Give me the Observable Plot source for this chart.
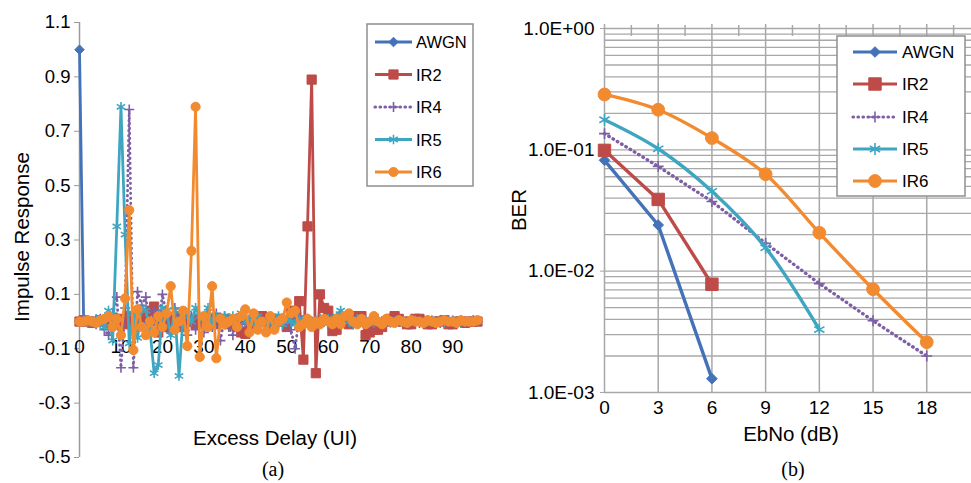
<!DOCTYPE html>
<html><head><meta charset="utf-8">
<script src="https://cdn.jsdelivr.net/npm/d3@7"></script>
<script src="https://cdn.jsdelivr.net/npm/@observablehq/plot@0.6"></script>
<style>
body{margin:0;background:#fff;}
#root{position:relative;width:971px;height:483px;overflow:hidden;font-family:"Liberation Sans",Arial,sans-serif;}
#root svg{position:absolute;top:0;}
</style></head><body><div id="root"></div>
<script>
// ---------- Panel (a): impulse responses, excess delay 0..96 UI ----------
const seriesNames = ["AWGN", "IR2", "IR4", "IR5", "IR6"];
const irAWGN = [1,0,0,0,0,0,0,0,0,0, 0,0,0,0,0,0,0,0,0,0, 0,0,0,0,0,0,0,0,0,0, 0,0,0,0,0,0,0,0,0,0,
  0,0,0,0,0,0,0,0,0,0, 0,0,0,0,0,0,0,0,0,0, 0,0,0,0,0,0,0,0,0,0, 0,0,0,0,0,0,0,0,0,0,
  0,0,0,0,0,0,0,0,0,0, 0,0,0,0,0,0,0];
const irIR2 = [0,0.005,0,-0.005,0,0.005,0,-0.005,0.01,-0.01,
  0.01,-0.01,0.02,-0.02,0.01,0.02,0.03,0.04,0.055,-0.04,
  0.02,-0.02,0.01,-0.01,0.02,-0.02,0.01,0,-0.01,0.01,
  0,-0.01,0.01,-0.01,0,0.01,-0.01,0,-0.02,-0.04,
  -0.045,-0.01,0.01,0.02,0.02,0.01,0,-0.01,0.01,0,
  -0.02,0.03,0.04,0.075,-0.14,0.35,0.89,-0.19,0.1,0.05,
  0.04,-0.035,-0.03,0.01,0,-0.01,0,0.02,0.02,-0.05,
  -0.04,-0.03,-0.03,-0.02,0,0.01,0.02,0.01,0,-0.01,
  -0.01,0.01,0.01,0,-0.01,-0.01,0,0,0.005,-0.01,
  -0.01,0,0,-0.005,0,0,0];
const irIR4 = [0,0,0.005,0,-0.01,0.01,-0.03,-0.05,0.03,0.09,
  -0.17,0.05,0.78,-0.17,0.11,0.06,0.09,-0.03,0.04,-0.03,
  0.1,0.02,-0.04,0.05,0.01,-0.02,-0.05,0.02,-0.03,0.01,
  -0.04,0.02,-0.02,0.03,-0.07,0.02,-0.02,-0.05,0.01,-0.02,
  0.01,-0.01,0.02,-0.01,0,0.01,-0.02,0.01,0,-0.01,
  0.01,-0.03,-0.1,0.02,-0.01,0.01,0,-0.01,0.01,0,
  -0.01,0.01,0,-0.01,0.01,0,-0.01,0,0.01,0,
  -0.01,0,0.01,0,-0.005,0,0.005,0,-0.005,0,
  0.005,0,-0.005,0,0.005,0,0,-0.005,0,0.005,
  0,0,-0.005,0,0,0.005,0];
const irIR5 = [0,0.005,-0.005,0,0.01,-0.01,-0.02,0.04,-0.07,0.35,
  0.79,0.32,-0.08,0.03,-0.06,0.05,0.04,-0.03,-0.19,-0.16,
  0.05,0.04,-0.05,0.04,-0.2,0.02,0.03,0,0.05,0.02,
  0.01,0.05,-0.01,0.02,0.01,0.02,0,0.02,0.01,0.03,
  0,0.01,-0.01,0.02,0,-0.01,0.01,0,0.02,-0.01,
  0.01,0,-0.01,0.01,0,0.01,-0.01,0,0.01,0,
  0.01,0,0.02,0.04,0.01,0,-0.01,0.01,0,0.005,
  0,-0.005,0.005,0,0.005,-0.005,0,0.005,0,-0.005,
  0,0.005,0,-0.005,0,0.005,0,0,-0.005,0,
  0.005,0,-0.005,0,0,0.005,0];
const irIR6 = [0,0,0.005,0,-0.005,0.005,0.01,0.02,-0.02,0.01,
  -0.05,0.085,0.41,-0.105,0.045,-0.02,-0.05,0,-0.04,0.02,
  -0.02,0.03,0.13,-0.03,0,0.04,-0.09,0.26,0.79,-0.13,
  0.02,-0.02,0.13,-0.135,0.01,-0.01,0,0.01,-0.02,0.02,
  0.045,-0.04,0.03,-0.03,0,-0.04,0.02,-0.03,0,0.01,
  0.07,0.03,0.04,-0.02,-0.01,0.01,-0.02,0,-0.01,0.01,
  0,-0.01,0.01,-0.01,0.02,0.03,0,-0.01,0.01,-0.01,
  0,0.02,0,-0.01,0.01,0,-0.005,0.005,0,-0.005,
  0.005,0,0,-0.005,0.005,0,-0.005,0,0.005,0,
  0,-0.005,0.005,0,0,0,0.005];
const yTicksA = [-0.5, -0.3, -0.1, 0.1, 0.3, 0.5, 0.7, 0.9, 1.1];
const xTicksA = [0, 10, 20, 30, 40, 50, 60, 70, 80, 90];

// ---------- Panel (b): BER vs EbNo ----------
const ebno = [0, 3, 6, 9, 12, 15, 18];
const berAWGN = [0.082, 0.024, 0.0013];
const berIR2 = [0.099, 0.039, 0.0078];
const berIR4 = [0.136, 0.073, 0.0375, 0.017, 0.0079, 0.0039, 0.002];
const berIR5 = [0.177, 0.102, 0.0455, 0.0156, 0.0033];
const berIR6 = [0.286, 0.214, 0.125, 0.063, 0.0207, 0.0071, 0.0026];
const berDecades = [0.001, 0.01, 0.1, 1];
const berTickLabels = ["1.0E-03", "1.0E-02", "1.0E-01", "1.0E+00"];
const berGrid = [0.001,0.002,0.003,0.004,0.005,0.006,0.007,0.008,0.009,
  0.01,0.02,0.03,0.04,0.05,0.06,0.07,0.08,0.09,
  0.1,0.2,0.3,0.4,0.5,0.6,0.7,0.8,0.9,1];
const ebnoMinor = [1.5, 4.5, 7.5, 10.5, 13.5, 16.5, 19.5];

// ---------- styles ----------
const colors = {AWGN: "#4472b8", IR2: "#be4b48", IR4: "#7d5fa5", IR5: "#3fa6c2", IR6: "#f28b30"};
const symbols = {AWGN: "diamond2", IR2: "square", IR4: "plus", IR5: "asterisk", IR6: "circle"};
const filled = {AWGN: true, IR2: true, IR4: false, IR5: false, IR6: true};
const rA = {AWGN: 4.3, IR2: 5.2, IR4: 3.3, IR5: 4.6, IR6: 4.6};
const rB = {AWGN: 4.8, IR2: 7.0, IR4: 3.6, IR5: 5.6, IR6: 6.4};
const d3sym = {AWGN: d3.symbolDiamond2, IR2: d3.symbolSquare, IR4: d3.symbolPlus, IR5: d3.symbolAsterisk, IR6: d3.symbolCircle};

const irSeries = [irAWGN, irIR2, irIR4, irIR5, irIR6];
const berSeries = [berAWGN, berIR2, berIR4, berIR5, berIR6];
const font = "'Liberation Sans', Arial, sans-serif";
const root = document.getElementById("root");

function seriesMarks(records, r, sw, curves) {
  const out = [];
  seriesNames.forEach(name => {
    const data = records.filter(d => d.series === name);
    out.push(Plot.line(data, {
      x: "x", y: "y", stroke: colors[name], strokeWidth: sw,
      curve: curves && curves[name] ? curves[name] : "linear",
      strokeDasharray: name === "IR4" ? "0.5,4.5" : null,
      strokeLinecap: name === "IR4" ? "round" : "butt",
      strokeLinejoin: "round"
    }));
    out.push(Plot.dot(data, filled[name]
      ? {x: "x", y: "y", symbol: symbols[name], r: r[name], fill: colors[name], stroke: colors[name], strokeWidth: 1}
      : {x: "x", y: "y", symbol: symbols[name], r: r[name], fill: "none", stroke: colors[name], strokeWidth: 1.6}));
  });
  return out;
}

// Panel (a)
const recA = [];
seriesNames.forEach((name, k) => irSeries[k].forEach((v, i) => recA.push({series: name, x: i, y: v})));
const plotA = Plot.plot({
  width: 490, height: 483,
  marginLeft: 79, marginRight: 13, marginTop: 22, marginBottom: 26,
  x: {domain: [0, 96], axis: null},
  y: {domain: [-0.5, 1.1]},
  style: {fontFamily: font, fontSize: "18.5px", color: "#000", background: "transparent", overflow: "visible"},
  marks: [
    Plot.ruleX([0], {stroke: "#9a9a9a", strokeWidth: 1.5}),
    Plot.axisY(yTicksA, {tickSize: 5, tickPadding: 4, stroke: "#9a9a9a", fill: "#000", label: null,
      tickFormat: d => d.toFixed(1)}),
    Plot.ruleY([0], {stroke: "#9a9a9a", strokeWidth: 1.5}),
    Plot.text(xTicksA, {x: d => d, y: () => 0, dy: 25, text: d => String(d), fill: "#000", fontSize: 19}),
    ...seriesMarks(recA, rA, 2.8, null)
  ]
});
plotA.style.left = "0px";
root.appendChild(plotA);

// Panel (b)
const recB = [];
seriesNames.forEach((name, k) => berSeries[k].forEach((v, i) => recB.push({series: name, x: ebno[i], y: v})));
const plotB = Plot.plot({
  width: 491, height: 483,
  marginLeft: 124, marginRight: 0, marginTop: 28, marginBottom: 91,
  x: {domain: [0, 20.5]},
  y: {type: "log", domain: [0.001, 1]},
  style: {fontFamily: font, fontSize: "19px", color: "#000", background: "transparent", overflow: "visible"},
  marks: [
    Plot.ruleY(berGrid, {stroke: "#a8a8a8", strokeWidth: 1.3}),
    Plot.ruleX(ebno, {stroke: "#a8a8a8", strokeWidth: 1.5, insetTop: -4}),
    Plot.ruleX(ebnoMinor, {y1: 1, y2: 0.86, stroke: "#a8a8a8", strokeWidth: 1.5, insetTop: -3}),
    Plot.axisY(berDecades, {tickSize: 4, tickPadding: 6, stroke: "#a8a8a8", fill: "#000", label: null,
      tickFormat: d => berTickLabels[berDecades.indexOf(d)]}),
    Plot.axisX(ebno, {tickSize: 0, tickPadding: 8, fill: "#000", label: null}),
    ...seriesMarks(recB, rB, 3.4, {IR5: "catmull-rom", IR6: "catmull-rom"})
  ]
});
plotB.style.left = "480px";
root.appendChild(plotB);

// ---------- overlay: titles, captions, legends ----------
const ov = d3.select(root).append("svg").attr("width", 971).attr("height", 483).style("left", "0px");
function label(txt, x, y, size, rot, family) {
  ov.append("text").attr("transform", `translate(${x},${y}) rotate(${rot || 0})`)
    .attr("text-anchor", "middle").attr("dominant-baseline", "central")
    .attr("font-family", family || font).attr("font-size", size).attr("fill", "#000").text(txt);
}
label("Impulse Response", 21, 237, 20.5, -90);
label("Excess Delay (UI)", 275, 437, 20.5);
label("BER", 518, 210, 20.5, -90);
label("EbNo (dB)", 791, 433, 20.5);
label("(a)", 273, 469, 20, 0, "'Liberation Serif', 'Times New Roman', serif");
label("(b)", 793, 469, 20, 0, "'Liberation Serif', 'Times New Roman', serif");

function legend(x0, y0, w, h, rows, lx1, lx2, tx, fs, rr) {
  const g = ov.append("g");
  g.append("rect").attr("x", x0).attr("y", y0).attr("width", w).attr("height", h)
    .attr("fill", "#fff").attr("stroke", "#8f8f8f").attr("stroke-width", 1.5);
  seriesNames.forEach((name, i) => {
    const y = rows[i];
    g.append("line").attr("x1", lx1).attr("x2", lx2).attr("y1", y).attr("y2", y)
      .attr("stroke", colors[name]).attr("stroke-width", 3.2)
      .attr("stroke-dasharray", name === "IR4" ? "0.5,4.5" : null)
      .attr("stroke-linecap", name === "IR4" ? "round" : "butt");
    const size = Math.PI * rr[name] * rr[name];
    g.append("path").attr("d", d3.symbol(d3sym[name], size)())
      .attr("transform", `translate(${(lx1 + lx2) / 2},${y})`)
      .attr("fill", filled[name] ? colors[name] : "none")
      .attr("stroke", colors[name]).attr("stroke-width", filled[name] ? 1 : 1.6);
    g.append("text").attr("x", tx).attr("y", y).attr("dominant-baseline", "central")
      .attr("font-family", font).attr("font-size", fs).attr("fill", "#000").text(name);
  });
}
legend(367, 24, 106, 162, [42, 74.5, 107, 139.5, 172], 375, 412, 416, 16.5, rA);
legend(837, 36, 128, 160, [52, 84, 117, 149, 181], 853, 897, 902, 17, rB);
</script></body></html>
